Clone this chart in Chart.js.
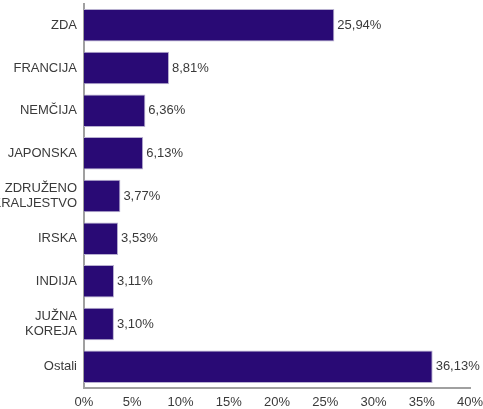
<!DOCTYPE html>
<html>
<head>
<meta charset="utf-8">
<script src="https://cdn.jsdelivr.net/npm/chart.js@4"></script>
<style>
  html, body { margin: 0; padding: 0; background: #ffffff; }
  #wrap { width: 483px; height: 409px; }
</style>
</head>
<body>
<div id="wrap"><canvas id="shareChart"></canvas></div>
<script>
const categories = ["ZDA", "FRANCIJA", "NEMČIJA", "JAPONSKA", ["ZDRUŽENO", "KRALJESTVO"], "IRSKA", "INDIJA", ["JUŽNA", "KOREJA"], "Ostali"];
const shares = [25.94, 8.81, 6.36, 6.13, 3.77, 3.53, 3.11, 3.10, 36.13];
const xTicks = [0, 5, 10, 15, 20, 25, 30, 35, 40];

const fmt = (v) => v.toFixed(2).replace(".", ",") + "%";

// value labels at the end of each bar
const valueLabels = {
  id: "valueLabels",
  afterDatasetsDraw(chart) {
    const ctx = chart.ctx;
    const meta = chart.getDatasetMeta(0);
    ctx.save();
    ctx.font = "13px 'Liberation Sans', Arial, sans-serif";
    ctx.fillStyle = "#3a3a3a";
    ctx.textAlign = "left";
    ctx.textBaseline = "middle";
    meta.data.forEach((bar, i) => {
      ctx.fillText(fmt(shares[i]), bar.x + 3, bar.y);
    });
    ctx.restore();
  },
};

const ctx = document.getElementById("shareChart").getContext("2d");
new Chart(ctx, {
  type: "bar",
  data: {
    labels: categories,
    datasets: [
      {
        data: shares,
        backgroundColor: "#290a75",
        borderColor: "#b8b0d0",
        borderWidth: 1,
        categoryPercentage: 0.76,
        barPercentage: 1,
      },
    ],
  },
  options: {
    indexAxis: "y",
    responsive: true,
    maintainAspectRatio: false,
    animation: false,
    layout: { padding: { top: 4, right: 13, left: 0, bottom: 0 } },
    plugins: {
      legend: { display: false },
      tooltip: { enabled: false },
    },
    scales: {
      x: {
        min: 0,
        max: 40,
        afterBuildTicks(scale) {
          scale.ticks = xTicks.map((v) => ({ value: v }));
        },
        afterFit(scale) {
          scale.height = 21;
          scale.paddingLeft = 0;
          scale.paddingRight = 0;
        },
        grid: { display: false, drawTicks: false },
        border: { display: true, color: "#a0a0a0", width: 2 },
        ticks: {
          color: "#3a3a3a",
          padding: 7,
          font: { family: "'Liberation Sans', Arial, sans-serif", size: 13 },
          callback: (v) => v + "%",
        },
      },
      y: {
        afterFit(scale) {
          scale.width = 84;
          scale.paddingTop = 0;
          scale.paddingBottom = 0;
        },
        grid: { display: false, drawTicks: false },
        border: { display: true, color: "#a0a0a0", width: 2 },
        ticks: {
          color: "#3a3a3a",
          padding: 7,
          font: { family: "'Liberation Sans', Arial, sans-serif", size: 13, lineHeight: 1.1 },
        },
      },
    },
  },
  plugins: [valueLabels],
});
</script>
</body>
</html>
